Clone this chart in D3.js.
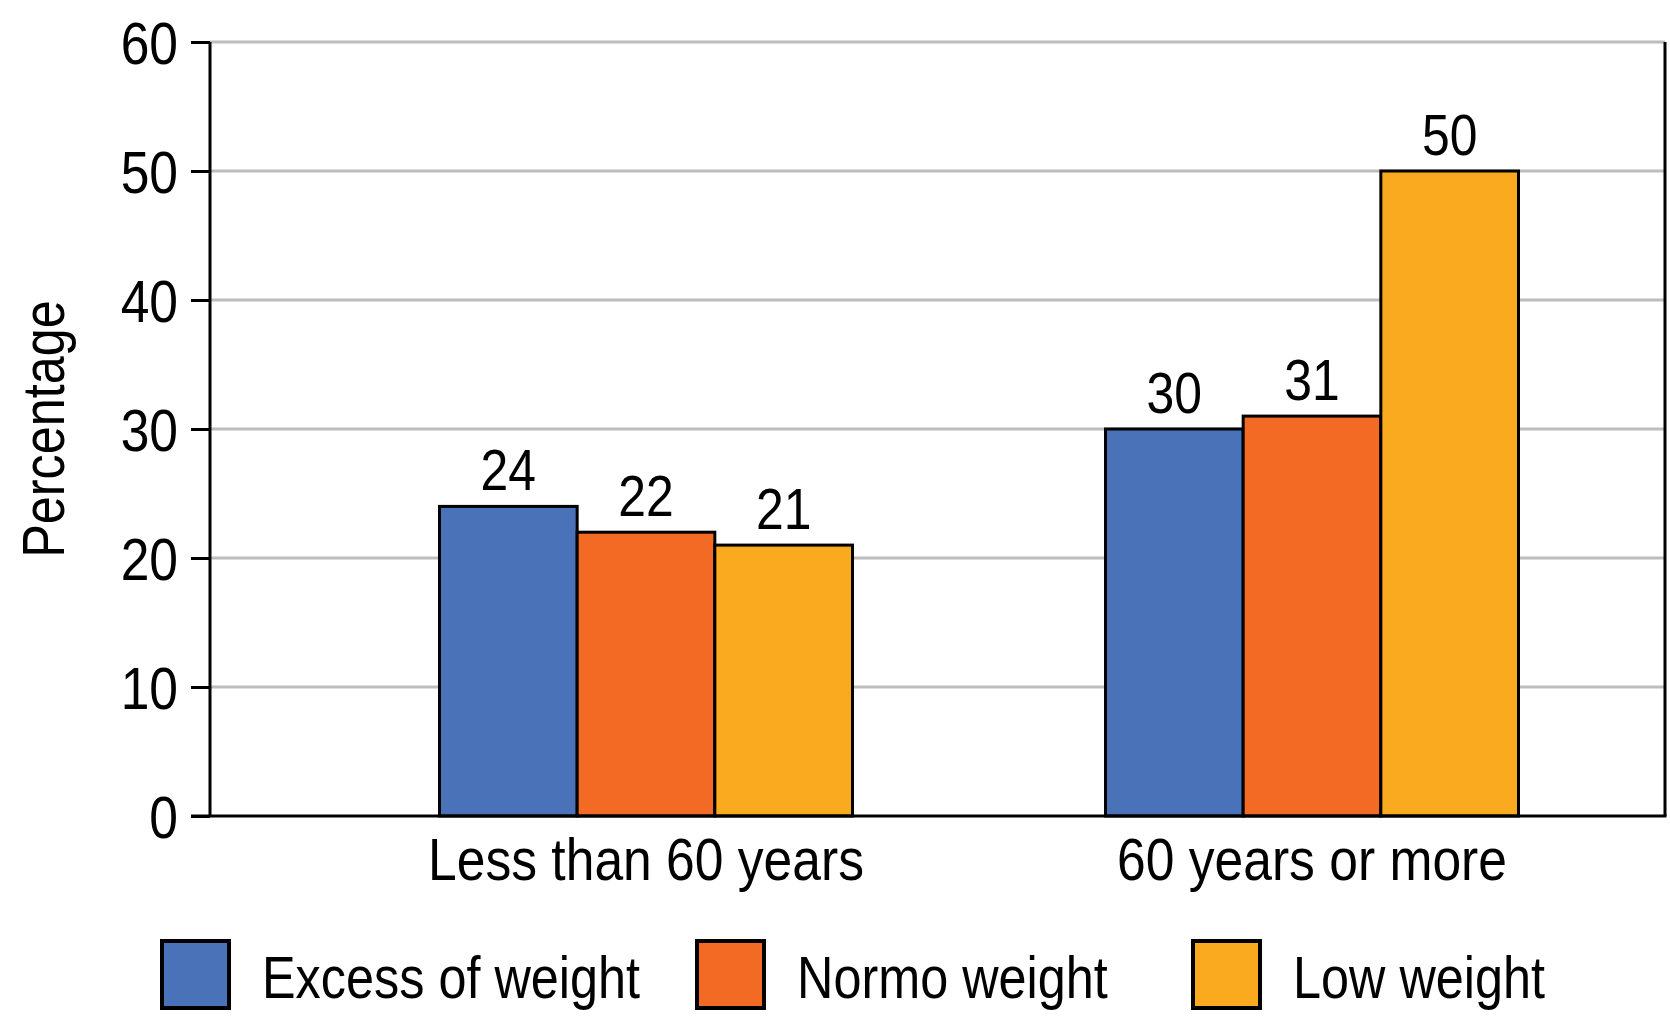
<!DOCTYPE html>
<html>
<head>
<meta charset="utf-8">
<script src="https://cdn.jsdelivr.net/npm/d3@7"></script>
<style>
  body { margin: 0; background: #fff; }
  text { font-family: "Liberation Sans", Arial, sans-serif; fill: #000; }
</style>
</head>
<body>
<div id="chart"></div>
<script>
// grouped bars: weight status by age group

var groups = ["Less than 60 years", "60 years or more"];
var series = ["Excess of weight", "Normo weight", "Low weight"];
var excessWeight = [24, 30];
var normoWeight = [22, 31];
var lowWeight = [21, 50];
var colors = ["#4a72b8", "#f26a24", "#f9aa1e"];
var yTicks = [0, 10, 20, 30, 40, 50, 60];

var width = 1670,
    height = 1024;

var plotLeft = 210, plotRight = 1665, plotTop = 42, plotBottom = 816;
var narrow = 0.84;   // no condensed font installed, squeeze text instead

var svg = d3.select("#chart").append("svg")
    .attr("width", width)
    .attr("height", height);

var values = [excessWeight, normoWeight, lowWeight];
var rows = [];
groups.forEach(function(g, i) {
  series.forEach(function(s, j) {
    rows.push({group: g, series: s, value: values[j][i], color: colors[j]});
  });
});

var y = d3.scaleLinear()
    .domain([0, 60])
    .range([plotBottom, plotTop]);

var x0 = d3.scaleBand()
    .domain(groups)
    .range([313, 1645]);

var x1 = d3.scaleBand()
    .domain(series)
    .range([0, 413]);

var groupOffset = (x0.bandwidth() - 413) / 2;

function squeeze(x, yy, k) {
  return "translate(" + x + "," + yy + ") scale(" + (k || narrow) + ",1)";
}

// grid lines
svg.selectAll("line.grid")
   .data(yTicks.filter(function(d) { return d > 0; }))
   .enter().append("line")
   .attr("class", "grid")
   .attr("x1", plotLeft)
   .attr("x2", plotRight)
   .attr("y1", function(d) { return y(d); })
   .attr("y2", function(d) { return y(d); })
   .attr("stroke", "#bdbdbd")
   .attr("stroke-width", 3);

// bars
svg.selectAll("rect.bar")
   .data(rows)
   .enter().append("rect")
   .attr("class", "bar")
   .attr("x", function(d) { return x0(d.group) + groupOffset + x1(d.series); })
   .attr("y", function(d) { return y(d.value); })
   .attr("width", x1.bandwidth())
   .attr("height", function(d) { return y(0) - y(d.value); })
   .attr("fill", function(d) { return d.color; })
   .attr("stroke", "#000")
   .attr("stroke-width", 3);

// value labels
svg.selectAll("text.val")
   .data(rows)
   .enter().append("text")
   .attr("class", "val")
   .attr("transform", function(d) {
     return squeeze(x0(d.group) + groupOffset + x1(d.series) + x1.bandwidth() / 2, y(d.value) - 16, 0.86);
   })
   .attr("text-anchor", "middle")
   .attr("font-size", 58)
   .text(function(d) { return d.value; });

// y axis
var yAxis = svg.append("g")
    .attr("transform", "translate(" + plotLeft + ",0)")
    .call(d3.axisLeft(y).tickValues(yTicks).tickSize(19).tickPadding(14));
yAxis.select(".domain").remove();
yAxis.selectAll(".tick line").attr("stroke", "#000").attr("stroke-width", 3);
yAxis.selectAll(".tick text")
     .attr("font-size", 60)
     .attr("font-family", null)
     .attr("fill", "#000")
     .attr("x", -32 / 0.86)
     .attr("transform", "scale(0.86,1)")
     .attr("dy", "0.36em");

// axis frame: left, bottom, right
svg.append("line")
   .attr("x1", plotLeft).attr("x2", plotLeft)
   .attr("y1", plotTop).attr("y2", plotBottom)
   .attr("stroke", "#000").attr("stroke-width", 3);
svg.append("line")
   .attr("x1", plotLeft - 19).attr("x2", plotRight + 1.5)
   .attr("y1", plotBottom).attr("y2", plotBottom)
   .attr("stroke", "#000").attr("stroke-width", 3);
svg.append("line")
   .attr("x1", plotRight).attr("x2", plotRight)
   .attr("y1", plotTop).attr("y2", plotBottom)
   .attr("stroke", "#000").attr("stroke-width", 3);

// category labels
svg.selectAll("text.cat")
   .data(groups)
   .enter().append("text")
   .attr("class", "cat")
   .attr("transform", function(d) { return squeeze(x0(d) + x0.bandwidth() / 2, 880, 0.86); })
   .attr("text-anchor", "middle")
   .attr("font-size", 60)
   .text(function(d) { return d; });

// y title
svg.append("text")
   .attr("transform", "translate(64," + ((plotTop + plotBottom) / 2) + ") rotate(-90) scale(" + narrow + ",1)")
   .attr("text-anchor", "middle")
   .attr("font-size", 60)
   .text("Percentage");

// legend
var legendX = [162, 697, 1193];
var legend = svg.selectAll("g.legend")
   .data(series)
   .enter().append("g")
   .attr("class", "legend")
   .attr("transform", function(d, i) { return "translate(" + legendX[i] + ",941)"; });

legend.append("rect")
   .attr("width", 67)
   .attr("height", 67)
   .attr("fill", function(d, i) { return colors[i]; })
   .attr("stroke", "#000")
   .attr("stroke-width", 4);

legend.append("text")
   .attr("transform", squeeze(100, 57))
   .attr("font-size", 60)
   .text(function(d) { return d; });
</script>
</body>
</html>
